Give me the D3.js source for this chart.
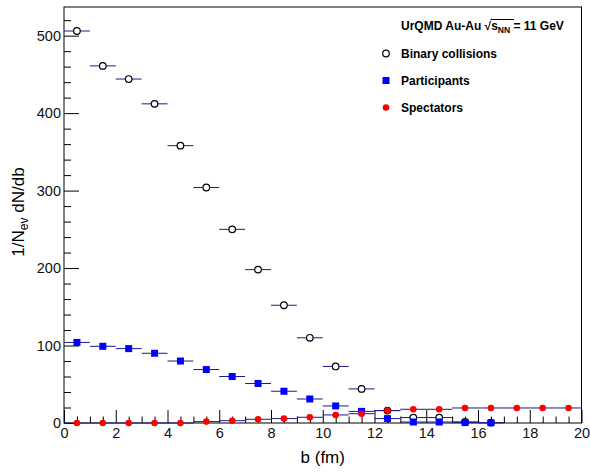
<!DOCTYPE html>
<html lang="en">
<head>
<meta charset="utf-8">
<title>UrQMD Au-Au impact parameter</title>
<script src="https://cdn.jsdelivr.net/npm/d3@7"></script>
<style>
  body { margin: 0; background: #fff; }
  svg { font-family: "Liberation Sans", Arial, sans-serif; }
</style>
</head>
<body>
<script>
// bin centres (b in fm), bin width 1 fm
var binCenters = [0.5, 1.5, 2.5, 3.5, 4.5, 5.5, 6.5, 7.5, 8.5, 9.5,
                  10.5, 11.5, 12.5, 13.5, 14.5, 15.5, 16.5, 17.5, 18.5, 19.5];
var binary = [506, 461, 444, 412, 358, 304, 250, 198, 152, 110,
              73, 44, 16, 7, 7, 1.5, 0.5];
var participants = [104, 99, 96, 90, 80, 69, 60, 51, 41, 31,
                    22, 15, 5.7, 1.3, 1.3, 0.5, 0.3];
var spectators = [0, 0, 0, 0, 0, 1.8, 3, 4.8, 5.7, 7.4,
                  10.4, 12, 16, 17.7, 17.7, 19.4, 19.4, 19.4, 19.4, 19.4];
var xMajor = [0, 2, 4, 6, 8, 10, 12, 14, 16, 18, 20];
var yMajor = [0, 100, 200, 300, 400, 500];
var legendNames = ["Binary collisions", "Participants", "Spectators"];

var w = 590, h = 473;
var padL = 64, padR = 581.5, padT = 7, padB = 423;
var binWidth = 1;

var svg = d3.select("body").append("svg")
    .attr("width", w)
    .attr("height", h);

var x = d3.scaleLinear().domain([0, 20]).range([padL, padR]);
var y = d3.scaleLinear().domain([0, 537]).range([padB, padT]);

var xMinor = d3.range(0, 20.01, 0.5).filter(function(d) { return d % 2 !== 0; });
var yMinor = d3.range(0, 537, 20).filter(function(d) { return d % 100 !== 0; });

// frame
svg.append("rect")
    .attr("x", padL).attr("y", padT)
    .attr("width", padR - padL).attr("height", padB - padT)
    .attr("fill", "none").attr("stroke", "#000").attr("stroke-width", 1);

// y axis (ticks pointing inside)
svg.append("g").attr("transform", "translate(" + padL + ",0)")
    .call(d3.axisLeft(y).tickValues(yMajor).tickSize(-15).tickPadding(3).tickFormat(d3.format("d")));
svg.append("g").attr("transform", "translate(" + padL + ",0)")
    .call(d3.axisLeft(y).tickValues(yMinor).tickSize(-7).tickFormat(""));

// x axis
svg.append("g").attr("transform", "translate(0," + padB + ")")
    .call(d3.axisBottom(x).tickValues(xMajor).tickSize(-13).tickPadding(5).tickFormat(d3.format("d")));
svg.append("g").attr("transform", "translate(0," + padB + ")")
    .call(d3.axisBottom(x).tickValues(xMinor).tickSize(-6.5).tickFormat(""));

svg.selectAll(".domain").remove();
svg.selectAll(".tick line").attr("stroke", "#000");
svg.selectAll(".tick text").attr("font-size", 14.5).attr("fill", "#111")
    .attr("font-family", "Liberation Sans, Arial, sans-serif");

// axis titles
svg.append("text")
    .attr("x", (padL + padR) / 2).attr("y", 463)
    .attr("text-anchor", "middle")
    .attr("font-size", 17)
    .text("b (fm)");

var yt = svg.append("text")
    .attr("transform", "translate(24,212) rotate(-90)")
    .attr("text-anchor", "middle")
    .attr("font-size", 17);
yt.append("tspan").text("1/N");
yt.append("tspan").attr("font-size", 12).attr("dy", 4).text("ev");
yt.append("tspan").attr("dy", -4).text(" dN/db");

var errColor = "#1a1a8c";

function drawSeries(values, kind) {
    var pts = values.map(function(v, i) { return { b: binCenters[i], v: v }; });
    var g = svg.append("g");
    g.selectAll("line.err").data(pts).enter().append("line")
        .attr("x1", function(d) { return x(d.b - binWidth / 2); })
        .attr("x2", function(d) { return x(d.b + binWidth / 2); })
        .attr("y1", function(d) { return y(d.v); })
        .attr("y2", function(d) { return y(d.v); })
        .attr("stroke", errColor).attr("stroke-width", 1);
    if (kind === "square") {
        g.selectAll("rect").data(pts).enter().append("rect")
            .attr("x", function(d) { return x(d.b) - 3.5; })
            .attr("y", function(d) { return y(d.v) - 3.5; })
            .attr("width", 7).attr("height", 7)
            .attr("fill", "#0000ff");
    } else {
        g.selectAll("circle").data(pts).enter().append("circle")
            .attr("cx", function(d) { return x(d.b); })
            .attr("cy", function(d) { return y(d.v); })
            .attr("r", 3.3)
            .attr("fill", kind === "open" ? "#fff" : "#ff0000")
            .attr("stroke", kind === "open" ? "#000" : "none")
            .attr("stroke-width", 1.2);
    }
}

drawSeries(binary, "open");
drawSeries(participants, "square");
drawSeries(spectators, "dot");

// legend
var textX = 401, markX = 386;
var lg = svg.append("g").attr("font-weight", "bold").attr("font-size", 12);
var title = lg.append("text").attr("x", textX).attr("y", 30);
title.append("tspan").text("UrQMD Au-Au ");
title.append("tspan").text("\u221A");
title.append("tspan").text("s");
title.append("tspan").attr("font-size", 8.5).attr("dy", 3).text("NN");
title.append("tspan").attr("dy", -3).text(" = 11 GeV");

// overbar of the square root
var tnode = title.node();
var sStart = tnode.getStartPositionOfChar(13);
var nnEnd = tnode.getEndPositionOfChar(16);
lg.append("line")
    .attr("x1", sStart.x - 0.5).attr("x2", nnEnd.x + 0.5)
    .attr("y1", 19.5).attr("y2", 19.5)
    .attr("stroke", "#000").attr("stroke-width", 1);

var legBase = [58, 85, 112];
legendNames.forEach(function(name, i) {
    lg.append("text").attr("x", textX).attr("y", legBase[i]).text(name);
});
lg.append("circle").attr("cx", markX).attr("cy", legBase[0] - 4.5).attr("r", 3.3)
    .attr("fill", "#fff").attr("stroke", "#000").attr("stroke-width", 1.2);
lg.append("rect").attr("x", markX - 3.5).attr("y", legBase[1] - 4.5 - 3.5)
    .attr("width", 7).attr("height", 7).attr("fill", "#0000ff");
lg.append("circle").attr("cx", markX).attr("cy", legBase[2] - 4.5).attr("r", 3.3)
    .attr("fill", "#ff0000");
</script>
</body>
</html>
